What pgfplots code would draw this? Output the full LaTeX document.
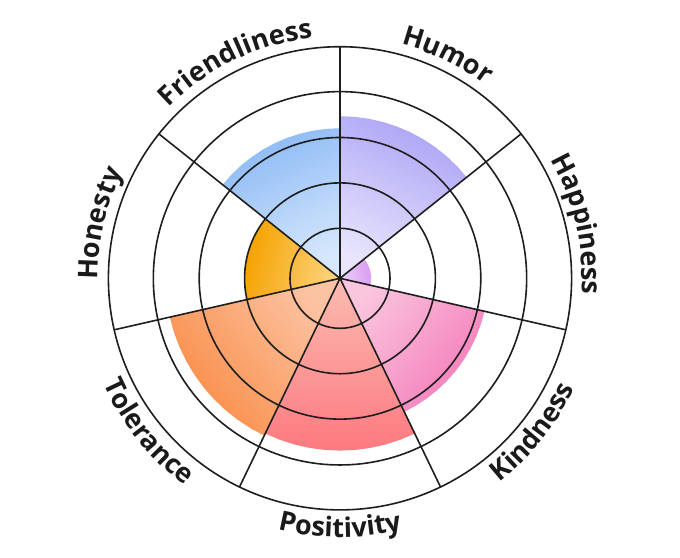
\documentclass[border=0pt]{standalone}
\usepackage{pgfplots}
\pgfplotsset{compat=1.18}
\usepgfplotslibrary{polar}
\usetikzlibrary{decorations.text}
\usepackage{fontspec}
\setmainfont{Open Sans}
\definecolor{gridc}{HTML}{1E1E1E}
\definecolor{labelc}{HTML}{1A1A1A}
\definecolor{humorD}{HTML}{ABA3F6}
\definecolor{humorL}{HTML}{E8E5FC}
\definecolor{happyD}{HTML}{D89CF0}
\definecolor{happyL}{HTML}{EDCFF8}
\definecolor{kindD}{HTML}{F47CBA}
\definecolor{kindL}{HTML}{FAC6DE}
\definecolor{posD}{HTML}{FD7980}
\definecolor{posL}{HTML}{FBBCB0}
\definecolor{tolD}{HTML}{F98C46}
\definecolor{tolL}{HTML}{FCC3A2}
\definecolor{honD}{HTML}{F5A200}
\definecolor{honL}{HTML}{FDD47F}
\definecolor{friD}{HTML}{8BB9F5}
\definecolor{friL}{HTML}{D6E8FD}
\newcommand{\lbl}{\fontsize{27}{27}\selectfont\bfseries\color{labelc}}
\begin{document}
\begin{tikzpicture}
\begin{polaraxis}[
  width=463.2pt, height=463.2pt, scale only axis,
  ymin=0, ymax=5,
  ytick={1.08,2.06,3.04,4.03},
  xtick={90,38.571,347.143,295.714,244.286,192.857,141.429},
  xticklabels={}, yticklabels={},
  grid=major,
  major grid style={draw=gridc, line width=1.6pt},
  separate axis lines,
  x axis line style={draw=gridc, line width=1.6pt},
  y axis line style={draw=none},
  major tick length=0pt,
  axis on top,
]
% Humor
\addplot[draw=none, bottom color=humorL, top color=humorD, shading angle=-25.714] coordinates {
(90,0) (90,3.5) (84.857,3.5) (79.714,3.5) (74.571,3.5) (69.429,3.5) (64.286,3.5) (59.143,3.5) (54,3.5) (48.857,3.5) (43.714,3.5) (38.571,3.5) (38.571,0)} -- cycle;
% Happiness
\addplot[draw=none, bottom color=happyL, top color=happyD, shading angle=-77.143] coordinates {
(38.571,0) (38.571,0.67) (33.429,0.67) (28.286,0.67) (23.143,0.67) (18,0.67) (12.857,0.67) (7.714,0.67) (2.571,0.67) (-2.571,0.67) (-7.714,0.67) (-12.857,0.67) (-12.857,0)} -- cycle;
% Kindness
\addplot[draw=none, bottom color=kindL, top color=kindD, shading angle=-128.571] coordinates {
(-12.857,0) (-12.857,3.2) (-18,3.2) (-23.143,3.2) (-28.286,3.2) (-33.429,3.2) (-38.571,3.2) (-43.714,3.2) (-48.857,3.2) (-54,3.2) (-59.143,3.2) (-64.286,3.2) (-64.286,0)} -- cycle;
% Positivity
\addplot[draw=none, bottom color=posL, top color=posD, shading angle=-180] coordinates {
(-64.286,0) (-64.286,3.72) (-69.429,3.72) (-74.571,3.72) (-79.714,3.72) (-84.857,3.72) (-90,3.72) (-95.143,3.72) (-100.286,3.72) (-105.429,3.72) (-110.571,3.72) (-115.714,3.72) (-115.714,0)} -- cycle;
% Tolerance
\addplot[draw=none, bottom color=tolL, top color=tolD, shading angle=-231.429] coordinates {
(-115.714,0) (-115.714,3.77) (-120.857,3.77) (-126,3.77) (-131.143,3.77) (-136.286,3.77) (-141.429,3.77) (-146.571,3.77) (-151.714,3.77) (-156.857,3.77) (-162,3.77) (-167.143,3.77) (-167.143,0)} -- cycle;
% Honesty
\addplot[draw=none, bottom color=honL, top color=honD, shading angle=77.143] coordinates {
(192.857,0) (192.857,2.05) (187.714,2.05) (182.571,2.05) (177.429,2.05) (172.286,2.05) (167.143,2.05) (162,2.05) (156.857,2.05) (151.714,2.05) (146.571,2.05) (141.429,2.05) (141.429,0)} -- cycle;
% Friendliness
\addplot[draw=none, bottom color=friL, top color=friD, shading angle=25.714] coordinates {
(141.429,0) (141.429,3.24) (136.286,3.24) (131.143,3.24) (126,3.24) (120.857,3.24) (115.714,3.24) (110.571,3.24) (105.429,3.24) (100.286,3.24) (95.143,3.24) (90,3.24) (90,0)} -- cycle;
\coordinate (O) at (axis cs:0,0);
\end{polaraxis}
\begin{scope}[shift={(O)}]
\path[decorate, decoration={text along path, text align=center, text={|\lbl|Humor}}]
  (90:242pt) arc[start angle=90, end angle=38.571, radius=242pt];
\path[decorate, decoration={text along path, text align=center, text={|\lbl|Happiness}}]
  (38.571:242pt) arc[start angle=38.571, end angle=-12.857, radius=242pt];
\path[decorate, decoration={text along path, text align=center, text={|\lbl|Kindness}}]
  (-64.286:259pt) arc[start angle=-64.286, end angle=-12.857, radius=259pt];
\path[decorate, decoration={text along path, text align=center, text={|\lbl|Positivity}}]
  (-115.714:259pt) arc[start angle=-115.714, end angle=-64.286, radius=259pt];
\path[decorate, decoration={text along path, text align=center, text={|\lbl|Tolerance}}]
  (-167.143:259pt) arc[start angle=-167.143, end angle=-115.714, radius=259pt];
\path[decorate, decoration={text along path, text align=center, text={|\lbl|Honesty}}]
  (192.857:242pt) arc[start angle=192.857, end angle=141.429, radius=242pt];
\path[decorate, decoration={text along path, text align=center, text={|\lbl|Friendliness}}]
  (141.429:242pt) arc[start angle=141.429, end angle=90, radius=242pt];
\end{scope}
\pgfresetboundingbox
\path[use as bounding box] ([xshift=-340pt,yshift=-278.7pt]O) rectangle ([xshift=340pt,yshift=278.3pt]O);
\end{tikzpicture}
\end{document}
